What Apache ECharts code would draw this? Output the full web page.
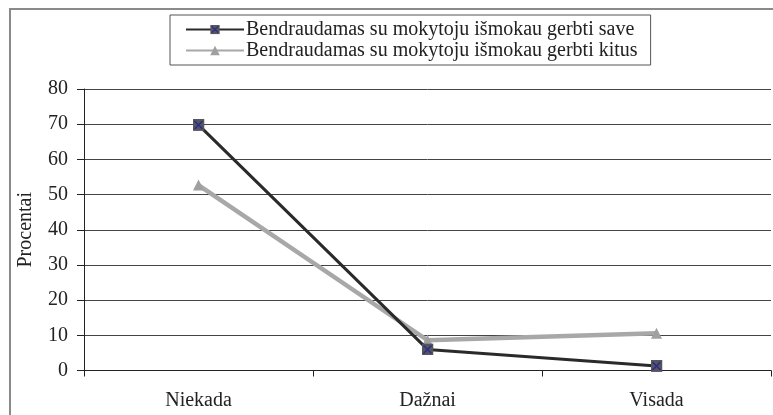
<!DOCTYPE html>
<html><head><meta charset="utf-8">
<script src="https://cdn.jsdelivr.net/npm/echarts@6/dist/echarts.min.js"></script>
<style>html,body{margin:0;padding:0;background:#fff}#c{width:773px;height:415px}</style>
</head><body><div id="c"></div>
<script>
const categories = ['Niekada', 'Dažnai', 'Visada'];
const seriesNames = ['Bendraudamas su mokytoju išmokau gerbti save', 'Bendraudamas su mokytoju išmokau gerbti kitus'];
const saveValues = [69.8, 6.0, 1.3];
const kitusValues = [52.7, 8.6, 10.6];
const yTicks = { min: 0, max: 80, interval: 10 };

const sqX = 'image://data:image/svg+xml;utf8,' + encodeURIComponent(
  '<svg xmlns="http://www.w3.org/2000/svg" width="12" height="12"><rect width="12" height="12" fill="#55555f"/><path d="M2 2L10 10M10 2L2 10" stroke="#2a2a90" stroke-width="1.4"/></svg>');
const FONT = '"Liberation Serif", "DejaVu Serif", serif';

const chart = echarts.init(document.getElementById('c'));
chart.setOption({
  animation: false,
  textStyle: { fontFamily: FONT },
  graphic: [{
    type: 'rect', shape: { x: 10, y: 9, width: 800, height: 450 },
    style: { fill: 'none', stroke: '#8a8a8a', lineWidth: 2 }, silent: true, z: -1
  }],
  legend: {
    left: 170, top: 15, orient: 'vertical',
    padding: [4, 13, 4, 15], itemGap: 0, itemWidth: 58, itemHeight: 12,
    borderColor: '#555', borderWidth: 1, backgroundColor: '#fff',
    textStyle: { fontFamily: FONT, fontSize: 20, lineHeight: 21, color: '#222', padding: [0, 0, 0, -3] },
    data: seriesNames
  },
  grid: { left: 84, right: 2, top: 89, bottom: 44.5, containLabel: false },
  xAxis: {
    type: 'category', data: categories, boundaryGap: true,
    axisLine: { lineStyle: { color: '#222', width: 1 } },
    axisTick: { show: true, length: 6, lineStyle: { color: '#222' } },
    axisLabel: { fontFamily: FONT, fontSize: 20, color: '#222', margin: 20 },
    splitLine: { show: false }
  },
  yAxis: {
    type: 'value', min: yTicks.min, max: yTicks.max, interval: yTicks.interval,
    name: 'Procentai', nameLocation: 'middle', nameGap: 48, nameRotate: 90,
    nameTextStyle: { fontFamily: FONT, fontSize: 20, color: '#222' },
    axisLine: { show: true, lineStyle: { color: '#222', width: 1 } },
    axisTick: { show: true, inside: false, length: 7, lineStyle: { color: '#222' } },
    axisLabel: { fontFamily: FONT, fontSize: 20, color: '#222', margin: 16 },
    splitLine: { show: true, lineStyle: { color: '#444', width: 1 } }
  },
  series: [
    {
      name: seriesNames[1], type: 'line', data: kitusValues,
      symbol: 'triangle', symbolSize: 11,
      itemStyle: { color: '#a0a0a0' },
      lineStyle: { color: '#a8a8a8', width: 4.5 }, z: 2
    },
    {
      name: seriesNames[0], type: 'line', data: saveValues,
      symbol: sqX, symbolSize: 12,
      itemStyle: { color: '#55555f' },
      lineStyle: { color: '#2a2a2a', width: 3 }, z: 3
    }
  ]
});
</script></body></html>
